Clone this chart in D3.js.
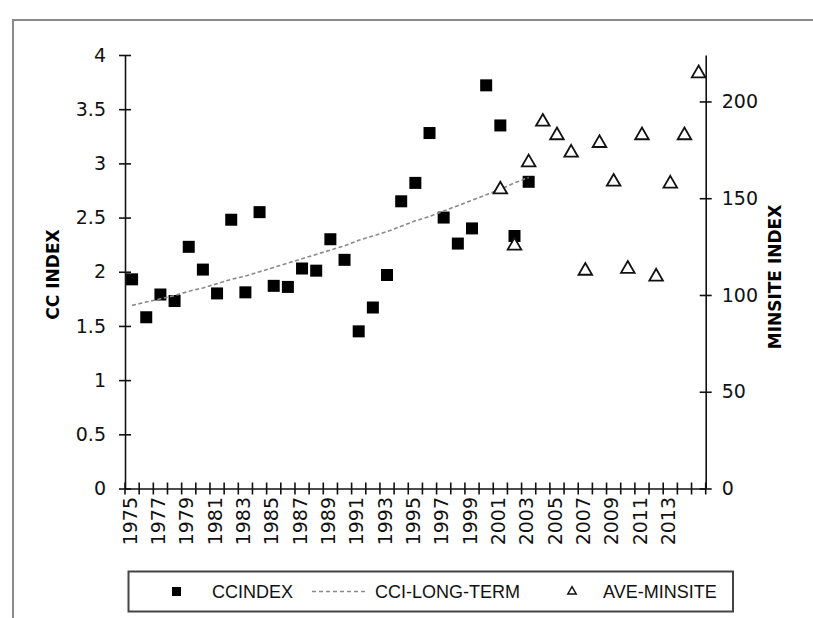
<!DOCTYPE html>
<html>
<head>
<meta charset="utf-8">
<script src="https://cdn.jsdelivr.net/npm/d3@7"></script>
<style>
  body { margin: 0; background: #fff; }
  svg { display: block; }
</style>
</head>
<body>
<svg></svg>
<script>
// categories (one per year on the x axis)
const years = ["1975","1976","1977","1978","1979","1980","1981","1982","1983","1984",
  "1985","1986","1987","1988","1989","1990","1991","1992","1993","1994",
  "1995","1996","1997","1998","1999","2000","2001","2002","2003","2004",
  "2005","2006","2007","2008","2009","2010","2011","2012","2013","2014","2015"];
const xTickLabels = ["1975","1977","1979","1981","1983","1985","1987","1989","1991","1993",
  "1995","1997","1999","2001","2003","2005","2007","2009","2011","2013"];
const leftTicks = [0, 0.5, 1, 1.5, 2, 2.5, 3, 3.5, 4];
const rightTicks = [0, 50, 100, 150, 200];

// CCINDEX (left axis)
const ccYears = ["1975","1976","1977","1978","1979","1980","1981","1982","1983","1984",
  "1985","1986","1987","1988","1989","1990","1991","1992","1993","1994",
  "1995","1996","1997","1998","1999","2000","2001","2002","2003"];
const ccIndex = [1.93, 1.58, 1.79, 1.73, 2.23, 2.02, 1.80, 2.48, 1.81, 2.55,
  1.87, 1.86, 2.03, 2.01, 2.30, 2.11, 1.45, 1.67, 1.97, 2.65,
  2.82, 3.28, 2.50, 2.26, 2.40, 3.72, 3.35, 2.33, 2.83];
// CCI-LONG-TERM (left axis)
const cciLongTerm = [1.69, 1.72, 1.75, 1.78, 1.82, 1.85, 1.89, 1.93, 1.96, 2.00,
  2.04, 2.08, 2.12, 2.16, 2.20, 2.24, 2.29, 2.33, 2.37, 2.42,
  2.47, 2.51, 2.56, 2.61, 2.66, 2.71, 2.76, 2.82, 2.87];
// AVE-MINSITE (right axis)
const minYears = ["2001","2002","2003","2004","2005","2006","2007","2008",
  "2009","2010","2011","2012","2013","2014","2015"];
const aveMinsite = [155, 126, 169, 190, 183, 174, 113, 179, 159, 114, 183, 110, 158, 183, 215];

const width = 813, height = 618;
const margin = { top: 55, right: 107.3, bottom: 129.5, left: 125 };
const tickFont = "'DejaVu Sans', sans-serif";
const legendFont = "'Liberation Sans', Arial, sans-serif";

const svg = d3.select("svg")
    .attr("width", width)
    .attr("height", height);

// outer frame
svg.append("rect")
    .attr("x", 13).attr("y", 20)
    .attr("width", width).attr("height", height)
    .attr("fill", "none")
    .attr("stroke", "#8a8a8a")
    .attr("stroke-width", 2);

const x = d3.scaleBand()
    .domain(years)
    .range([margin.left, width - margin.right])
    .padding(0);
const cx = d => x(d) + x.bandwidth() / 2;

const yLeft = d3.scaleLinear()
    .domain([0, 4])
    .range([height - margin.bottom, margin.top]);

const yRight = d3.scaleLinear()
    .domain([0, 224])
    .range([height - margin.bottom, margin.top]);

// left axis
const gLeft = svg.append("g")
    .attr("transform", `translate(${margin.left},0)`)
    .call(d3.axisLeft(yLeft).tickValues(leftTicks).tickFormat(d => d)
        .tickSize(6).tickSizeOuter(0).tickPadding(13));
gLeft.selectAll(".tick line").attr("x1", 6);

// right axis
const gRight = svg.append("g")
    .attr("transform", `translate(${width - margin.right},0)`)
    .call(d3.axisRight(yRight).tickValues(rightTicks)
        .tickSize(6).tickSizeOuter(0).tickPadding(10));
gRight.selectAll(".tick line").attr("x1", -6);

// x axis
const gX = svg.append("g")
    .attr("transform", `translate(0,${height - margin.bottom})`)
    .call(d3.axisBottom(x).tickValues(xTickLabels).tickSize(0).tickSizeOuter(0));
gX.selectAll(".tick text")
    .attr("transform", "rotate(-90)")
    .attr("text-anchor", "end")
    .attr("x", -8.5)
    .attr("y", -2)
    .attr("dy", "0.35em");

// x tick marks at category boundaries
gX.selectAll("line.cat")
    .data(years.concat(["end"]))
    .enter().append("line")
    .attr("class", "cat")
    .attr("x1", d => d === "end" ? x.range()[1] : x(d))
    .attr("x2", d => d === "end" ? x.range()[1] : x(d))
    .attr("y1", -6).attr("y2", 6);

[gLeft, gRight, gX].forEach(g => {
    g.attr("font-family", tickFont).attr("font-size", 19);
    g.selectAll("path.domain").attr("stroke", "#111").attr("stroke-width", 1.6);
    g.selectAll("line").attr("stroke", "#111").attr("stroke-width", 1.6);
    g.selectAll("text").attr("fill", "#111");
});

// CCINDEX squares
svg.append("g")
    .selectAll("rect")
    .data(ccYears.map((d, i) => ({ year: d, v: ccIndex[i] })))
    .enter().append("rect")
    .attr("x", d => cx(d.year) - 6)
    .attr("y", d => yLeft(d.v) - 6)
    .attr("width", 12)
    .attr("height", 12)
    .attr("fill", "#000");

// CCI-LONG-TERM dashed line
const line = d3.line()
    .x(d => cx(d.year))
    .y(d => yLeft(d.v));
svg.append("path")
    .datum(ccYears.map((d, i) => ({ year: d, v: cciLongTerm[i] })))
    .attr("d", line)
    .attr("fill", "none")
    .attr("stroke", "#8a8a8a")
    .attr("stroke-width", 1.6)
    .attr("stroke-dasharray", "4,2.5");

// AVE-MINSITE triangles
const tri = d3.symbol().type(d3.symbolTriangle).size(80);
svg.append("g")
    .selectAll("path")
    .data(minYears.map((d, i) => ({ year: d, v: aveMinsite[i] })))
    .enter().append("path")
    .attr("d", tri)
    .attr("transform", d => `translate(${cx(d.year)},${yRight(d.v) + 1})`)
    .attr("fill", "#fff")
    .attr("stroke", "#111")
    .attr("stroke-width", 1.8);

// axis titles
svg.append("text")
    .attr("transform", `translate(53,274.5) rotate(-90)`)
    .attr("text-anchor", "middle")
    .attr("dy", "0.35em")
    .style("font-family", tickFont)
    .style("font-size", "17px")
    .style("font-weight", "bold")
    .text("CC INDEX");

svg.append("text")
    .attr("transform", `translate(775,277) rotate(-90)`)
    .attr("text-anchor", "middle")
    .attr("dy", "0.35em")
    .style("font-family", tickFont)
    .style("font-size", "17px")
    .style("font-weight", "bold")
    .text("MINSITE INDEX");

// legend
const legend = svg.append("g");
legend.append("rect")
    .attr("x", 128.5).attr("y", 571.5)
    .attr("width", 604.5).attr("height", 40)
    .attr("fill", "#fff")
    .attr("stroke", "#444")
    .attr("stroke-width", 2);

const ly = 591.5;
legend.append("rect")
    .attr("x", 172).attr("y", ly - 4.5)
    .attr("width", 9).attr("height", 9)
    .attr("fill", "#000");
legend.append("line")
    .attr("x1", 312).attr("x2", 366)
    .attr("y1", ly).attr("y2", ly)
    .attr("stroke", "#8a8a8a")
    .attr("stroke-width", 1.6)
    .attr("stroke-dasharray", "4,3");
legend.append("path")
    .attr("d", d3.symbol().type(d3.symbolTriangle).size(30))
    .attr("transform", `translate(572,${ly})`)
    .attr("fill", "#fff")
    .attr("stroke", "#111")
    .attr("stroke-width", 1.5);

legend.selectAll("text")
    .data([["CCINDEX", 212], ["CCI-LONG-TERM", 375], ["AVE-MINSITE", 603]])
    .enter().append("text")
    .attr("x", d => d[1])
    .attr("y", ly)
    .attr("dy", "0.35em")
    .style("font-family", legendFont)
    .style("font-size", "18px")
    .attr("fill", "#111")
    .text(d => d[0]);
</script>
</body>
</html>
